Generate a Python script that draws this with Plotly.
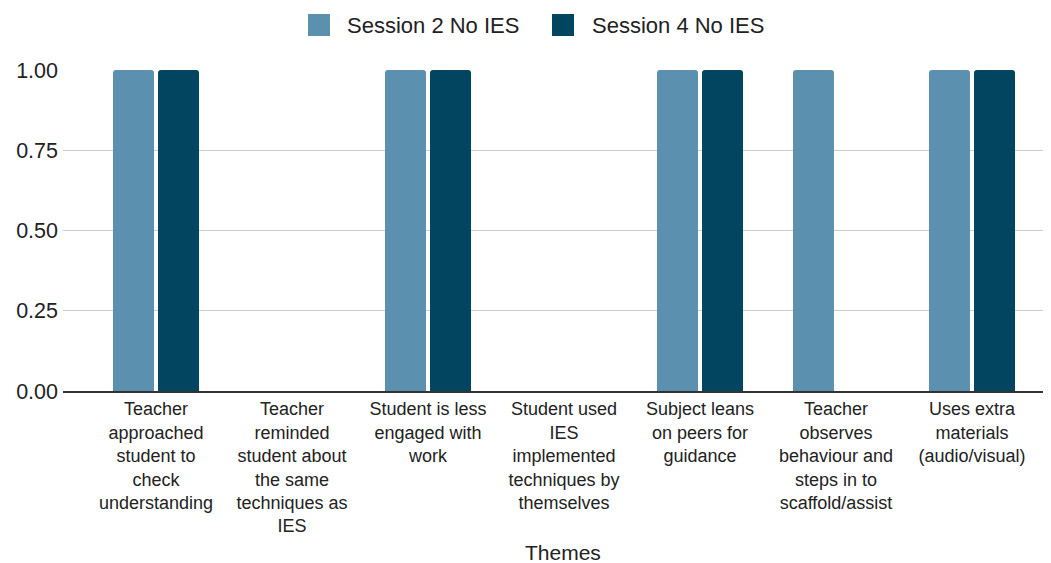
import plotly.graph_objects as go

categories = [
    "Teacher<br>approached<br>student to<br>check<br>understanding",
    "Teacher<br>reminded<br>student about<br>the same<br>techniques as<br>IES",
    "Student is less<br>engaged with<br>work",
    "Student used<br>IES<br>implemented<br>techniques by<br>themselves",
    "Subject leans<br>on peers for<br>guidance",
    "Teacher<br>observes<br>behaviour and<br>steps in to<br>scaffold/assist",
    "Uses extra<br>materials<br>(audio/visual)",
]
session2 = [1, 0, 1, 0, 1, 1, 1]
session4 = [1, 0, 1, 0, 1, 0, 1]
series_names = ["Session 2 No IES", "Session 4 No IES"]
colors = ["#5B91AF", "#024560"]
y_ticks = [0, 0.25, 0.5, 0.75, 1.0]

FONT = "Liberation Sans, Arial, sans-serif"
TXT = "#222222"

x = list(range(len(categories)))
fig = go.Figure()
for name, vals, col in zip(series_names, [session2, session4], colors):
    fig.add_trace(go.Bar(x=x, y=vals, name=name, marker=dict(color=col, cornerradius=3, line=dict(width=0)),
                         showlegend=False))

# axis title
fig.add_annotation(x=0.506, xref="paper", y=0, yref="paper", text="Themes", showarrow=False,
                   yanchor="middle", yshift=-161, font=dict(family=FONT, size=21, color=TXT))

# legend
leg_sq = [245, 489]
leg_tx = [282, 527]
for name, col, sx, tx in zip(series_names, colors, leg_sq, leg_tx):
    fig.add_shape(type="rect", xref="paper", yref="paper", xsizemode="pixel", ysizemode="pixel",
                  xanchor=0, yanchor=1, x0=sx, x1=sx + 22, y0=34, y1=56,
                  fillcolor=col, line=dict(width=0))
    fig.add_annotation(x=0, xref="paper", y=1, yref="paper", xshift=tx, yshift=45,
                       xanchor="left", yanchor="middle", text=name, showarrow=False,
                       font=dict(family=FONT, size=22, color=TXT))

fig.update_layout(
    width=1043, height=555,
    margin=dict(l=55, r=0, t=62, b=172),
    paper_bgcolor="white", plot_bgcolor="white",
    bargap=0.338, bargroupgap=0.089, barmode="group",
    font=dict(family=FONT, color=TXT),
    xaxis=dict(range=[-0.684, 6.581], tickvals=x, ticktext=categories, tickangle=0,
               tickfont=dict(family=FONT, size=18, color=TXT), automargin=False,
               showgrid=False, zeroline=False, ticklabelstandoff=1,
               showline=True, linecolor="#333333", linewidth=1.5, ticks=""),
    yaxis=dict(range=[0, 1.0], tickvals=y_ticks, tickformat=".2f", showgrid=True, automargin=False,
               gridcolor="#cccccc", gridwidth=1, zeroline=False, showline=False,
               tickfont=dict(family=FONT, size=21.5, color=TXT), ticks="", ticklabelstandoff=4),
)
fig.write_html("out.html")
